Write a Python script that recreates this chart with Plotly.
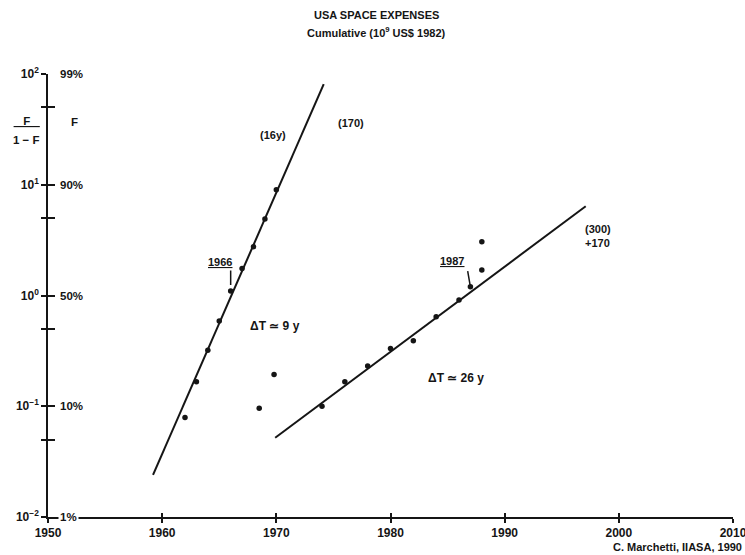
import numpy as np
import plotly.graph_objects as go

# ---------------- data ----------------
years_a = [1962, 1963, 1964, 1965, 1966, 1967, 1968, 1969, 1970]
ratio_a = [0.079, 0.166, 0.32, 0.59, 1.10, 1.75, 2.76, 4.9, 9.0]

years_a_out = [1968.5, 1969.8]
ratio_a_out = [0.096, 0.194]

years_b = [1974, 1976, 1978, 1980, 1982, 1984, 1986, 1987, 1988, 1988]
ratio_b = [0.100, 0.166, 0.231, 0.333, 0.391, 0.644, 0.910, 1.20, 1.70, 3.06]

fit_a_years = [1959.2, 1974.15]
fit_a_ratio = [0.024, 81.0]
fit_b_years = [1969.9, 1997.1]
fit_b_ratio = [0.052, 6.4]

x_ticks = [1950, 1960, 1970, 1980, 1990, 2000, 2010]
y_major = [0.01, 0.1, 1, 10, 100]
y_major_text = ["10<sup>−2</sup>", "10<sup>−1</sup>", "10<sup>0</sup>",
                "10<sup>1</sup>", "10<sup>2</sup>"]
y_minor = [0.05, 0.5, 5, 50]
y_all = sorted(y_major + y_minor)
pct_vals = [0.01, 0.1, 1, 10, 100]
pct_text = ["1%", "10%", "50%", "90%", "99%"]

FONT = "Liberation Sans, Arial, sans-serif"
INK = "#151515"

fig = go.Figure()

# fitted logistic lines
fig.add_trace(go.Scatter(x=fit_a_years, y=fit_a_ratio, mode="lines",
                         line=dict(color=INK, width=2), showlegend=False, hoverinfo="skip"))
fig.add_trace(go.Scatter(x=fit_b_years, y=fit_b_ratio, mode="lines",
                         line=dict(color=INK, width=2), showlegend=False, hoverinfo="skip"))
# data points
for xs, ys in [(years_a, ratio_a), (years_a_out, ratio_a_out), (years_b, ratio_b)]:
    fig.add_trace(go.Scatter(x=xs, y=ys, mode="markers",
                             marker=dict(color=INK, size=5.5), showlegend=False))
# empty trace for the overlay axes (inner half of tick crosses)
fig.add_trace(go.Scatter(x=[], y=[], xaxis="x2", yaxis="y2", showlegend=False))

xrange = [1950, 2010]
yrange = [-2, 2]

fig.update_layout(
    width=745, height=555,
    margin=dict(l=48, r=12, t=74, b=38, autoexpand=False),
    paper_bgcolor="white", plot_bgcolor="white",
    font=dict(family=FONT, size=11, color=INK, weight="bold"),
    xaxis=dict(range=xrange, showgrid=False, zeroline=False, showline=True,
               linecolor=INK, linewidth=1.5, ticks="outside", ticklen=4,
               tickwidth=1.5, tickcolor=INK, tickvals=x_ticks,
               ticklabeloverflow="allow", automargin=False,
               tickfont=dict(family=FONT, size=12, weight="bold")),
    xaxis2=dict(range=xrange, overlaying="x", anchor="y", side="bottom",
                showgrid=False, zeroline=False, showline=False, automargin=False,
                ticks="inside", ticklen=4, tickwidth=1.5, tickcolor=INK,
                tickvals=x_ticks, showticklabels=False),
    yaxis=dict(type="log", range=yrange, showgrid=False, zeroline=False,
               showline=True, linecolor=INK, linewidth=1.5, ticks="outside",
               ticklen=5, tickwidth=1.5, tickcolor=INK, tickvals=y_major,
               ticktext=y_major_text, automargin=False,
               minor=dict(tickvals=y_minor, ticks="outside", ticklen=5,
                          tickwidth=1.5, tickcolor=INK, showgrid=False),
               tickfont=dict(family=FONT, size=12, weight="bold")),
    yaxis2=dict(type="log", range=yrange, overlaying="y", anchor="x", side="left",
                showgrid=False, zeroline=False, showline=False, automargin=False,
                ticks="inside", ticklen=7, tickwidth=1.5, tickcolor=INK,
                tickvals=y_all, showticklabels=False),
)

ann = []
# percent labels to the right of the y axis
for v, t in zip(pct_vals, pct_text):
    ann.append(dict(x=1950, y=np.log10(v), xref="x", yref="y", text=t,
                    showarrow=False, xanchor="left", yanchor="middle", xshift=10,
                    bgcolor="white", borderpad=1, font=dict(size=11.5)))
# axis titles F/(1-F) and F
ann.append(dict(x=-0.032, y=np.log10(100) - (121 - 74) / 110.75, xref="paper", yref="y",
                text="\u00a0\u00a0\u00a0<u>\u00a0\u00a0\u00a0F\u00a0\u00a0\u00a0</u>\u00a0\u00a0\u00a0",
                showarrow=False, xanchor="center", yanchor="middle", font=dict(size=11.5)))
ann.append(dict(x=-0.032, y=np.log10(100) - (140 - 74) / 110.75, xref="paper", yref="y",
                text="1 − F", showarrow=False, xanchor="center", yanchor="middle",
                font=dict(size=11.5)))
ann.append(dict(x=1950, y=np.log10(100) - (122 - 74) / 110.75, xref="x", yref="y",
                text="F", showarrow=False, xanchor="left", yanchor="middle", xshift=21,
                font=dict(size=11.5)))

# title
ann.append(dict(x=0.48, y=1.133, xref="paper", yref="paper", text="USA SPACE EXPENSES",
                showarrow=False, xanchor="center", yanchor="middle", font=dict(size=11)))
ann.append(dict(x=0.48, y=1.095, xref="paper", yref="paper",
                text="Cumulative (10<sup>9</sup> US$ 1982)",
                showarrow=False, xanchor="center", yanchor="middle", font=dict(size=11)))
# credit
ann.append(dict(x=1.016, y=-0.068, xref="paper", yref="paper",
                text="C. Marchetti, IIASA, 1990", showarrow=False,
                xanchor="right", yanchor="middle", font=dict(size=11)))

# in-plot labels
ann.append(dict(x=1969.75, y=1.449, text="(16y)", showarrow=False, font=dict(size=11)))
ann.append(dict(x=1976.5, y=1.560, text="(170)", showarrow=False, font=dict(size=11)))
ann.append(dict(x=1996.9, y=0.533, text="(300)<br>+170", showarrow=False,
                xanchor="left", align="left", font=dict(size=11)))
ann.append(dict(x=1969.9, y=-0.275, text="ΔT ≃ 9 y", showarrow=False, font=dict(size=12)))
ann.append(dict(x=1985.7, y=-0.745, text="ΔT ≃ 26 y", showarrow=False, font=dict(size=12)))

# year call-outs with elbow leaders
i66 = years_a.index(1966)
ann.append(dict(x=1965.05, y=0.30, text="<u>1966</u>", showarrow=False, font=dict(size=11)))
ann.append(dict(x=years_a[i66], y=np.log10(ratio_a[i66]), text="", showarrow=True,
                arrowhead=0, arrowwidth=1.5, arrowcolor=INK, ax=0, ay=-22, standoff=6,
                font=dict(size=11)))
i87 = years_b.index(1987)
ann.append(dict(x=1985.4, y=0.31, text="<u>1987</u>", showarrow=False, font=dict(size=11)))
ann.append(dict(x=years_b[i87], y=np.log10(ratio_b[i87]), text="", showarrow=True,
                arrowhead=0, arrowwidth=1.5, arrowcolor=INK, ax=-3, ay=-17, standoff=2,
                font=dict(size=11)))

fig.update_layout(annotations=ann)
fig.write_html("out.html", config={"displayModeBar": False},
               post_script="document.body.style.margin='0';document.body.style.padding='0';")
